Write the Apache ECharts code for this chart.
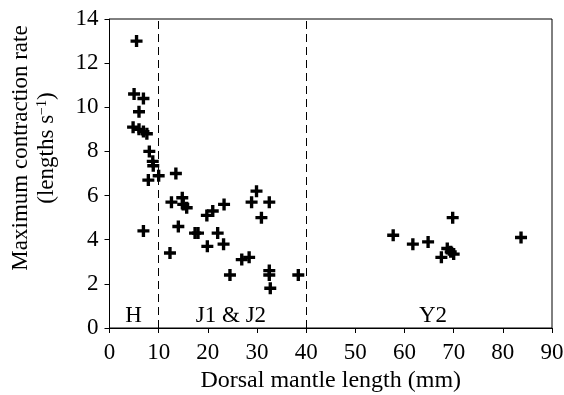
<!DOCTYPE html>
<html>
<head>
<meta charset="utf-8">
<script src="https://cdn.jsdelivr.net/npm/echarts@6/dist/echarts.min.js"></script>
<style>html,body{margin:0;padding:0;background:#fff}#c{width:564px;height:395px}</style>
</head>
<body>
<div id="c"></div>
<script>
// Dorsal mantle length (mm)
const lengthH = [5.5, 5.0, 6.9, 6.0, 4.8, 6.0, 6.9, 7.6, 8.1, 8.8, 8.9, 7.9, 10.0, 6.9];
const rateH   = [13.0, 10.6, 10.4, 9.8, 9.1, 9.0, 8.9, 8.8, 8.0, 7.55, 7.35, 6.7, 6.9, 4.4];
const lengthJ = [13.5, 12.6, 14.8, 15.0, 15.7, 14.0, 12.3, 17.4, 18.0, 19.8, 21.0, 19.9, 22.0, 23.2, 23.3, 24.5, 26.9, 28.4, 28.9, 29.9, 30.9, 32.5, 32.5, 32.5, 32.7, 38.4];
const rateJ   = [7.0, 5.7, 5.9, 5.6, 5.45, 4.6, 3.4, 4.3, 4.3, 5.1, 5.3, 3.7, 4.3, 3.8, 5.6, 2.4, 3.1, 3.2, 5.7, 6.2, 5.0, 5.7, 2.6, 2.4, 1.8, 2.4];
const lengthY = [57.7, 61.7, 64.8, 67.5, 68.7, 69.4, 70.0, 69.8, 83.7];
const rateY   = [4.2, 3.8, 3.9, 3.2, 3.6, 3.45, 3.35, 5.0, 4.1];
const stageBoundaries = [10, 40];
const stageLabels = ['H', 'J1 & J2', 'Y2'];
const stageLabelX = [4.9, 24.7, 65.8];
const stageLabelY = [0.55, 0.55, 0.55];
const xTicks = [0, 10, 20, 30, 40, 50, 60, 70, 80, 90];
const yTicks = [0, 2, 4, 6, 8, 10, 12, 14];

const FONT = 'Liberation Serif';
const pts = [];
[[lengthH, rateH], [lengthJ, rateJ], [lengthY, rateY]].forEach(([xs, ys]) => {
  xs.forEach((x, i) => pts.push([x, ys[i]]));
});
const plus = 'path://M3.6,0H6.4V3.6H10V6.4H6.4V10H3.6V6.4H0V3.6H3.6Z';

const chart = echarts.init(document.getElementById('c'), null, {renderer: 'canvas'});
chart.setOption({
  animation: false,
  backgroundColor: '#fff',
  grid: {left: 109.5, right: 12, top: 19, bottom: 67, show: true, borderColor: '#000', borderWidth: 1, backgroundColor: 'transparent', containLabel: false, outerBoundsMode: 'none'},
  xAxis: {
    type: 'value', min: xTicks[0], max: xTicks[xTicks.length - 1], interval: 10,
    name: 'Dorsal mantle length (mm)', nameLocation: 'middle', nameGap: 41,
    nameTextStyle: {fontFamily: FONT, fontSize: 24, color: '#000'},
    axisLine: {onZero: false, lineStyle: {color: '#000', width: 1}},
    axisTick: {show: true, inside: false, length: 5, lineStyle: {color: '#000'}},
    axisLabel: {fontFamily: FONT, fontSize: 23, color: '#000', margin: 13},
    splitLine: {show: false}
  },
  yAxis: {
    type: 'value', min: yTicks[0], max: yTicks[yTicks.length - 1], interval: 2,
    axisLine: {onZero: false, lineStyle: {color: '#000', width: 1}},
    axisTick: {show: true, inside: false, length: 5, lineStyle: {color: '#000'}},
    axisLabel: {fontFamily: FONT, fontSize: 23, color: '#000', margin: 11},
    splitLine: {show: false}
  },
  graphic: [{
    type: 'group', x: 34, y: 148, rotation: Math.PI / 2,
    children: [
      {type: 'text', x: 0, y: -13, style: {text: 'Maximum contraction rate', font: '23px "Liberation Serif"', fill: '#000', align: 'center', verticalAlign: 'middle'}},
      {type: 'text', x: 0, y: 13, style: {text: '(lengths s{sup|−1})', font: '23px "Liberation Serif"', fill: '#000', align: 'center', verticalAlign: 'middle',
        rich: {sup: {fontSize: 14, fontFamily: FONT, verticalAlign: 'top', padding: [0, 0, 10, 0]}}}}
    ]
  }],
  series: [{
    type: 'scatter', data: pts, symbol: plus, symbolSize: 12,
    itemStyle: {color: '#000', opacity: 1},
    markLine: {
      silent: true, symbol: 'none', label: {show: false},
      lineStyle: {color: '#000', type: [8, 5], width: 1},
      data: stageBoundaries.map(v => ({xAxis: v}))
    }
  }, {
    type: 'scatter', symbolSize: 0, silent: true,
    itemStyle: {color: '#000', opacity: 1},
    data: stageLabels.map((n, i) => ({name: n, value: [stageLabelX[i], stageLabelY[i]]})),
    label: {show: true, position: 'inside', formatter: '{b}', fontFamily: FONT, fontSize: 23, color: '#000', opacity: 1}
  }]
});
</script>
</body>
</html>
